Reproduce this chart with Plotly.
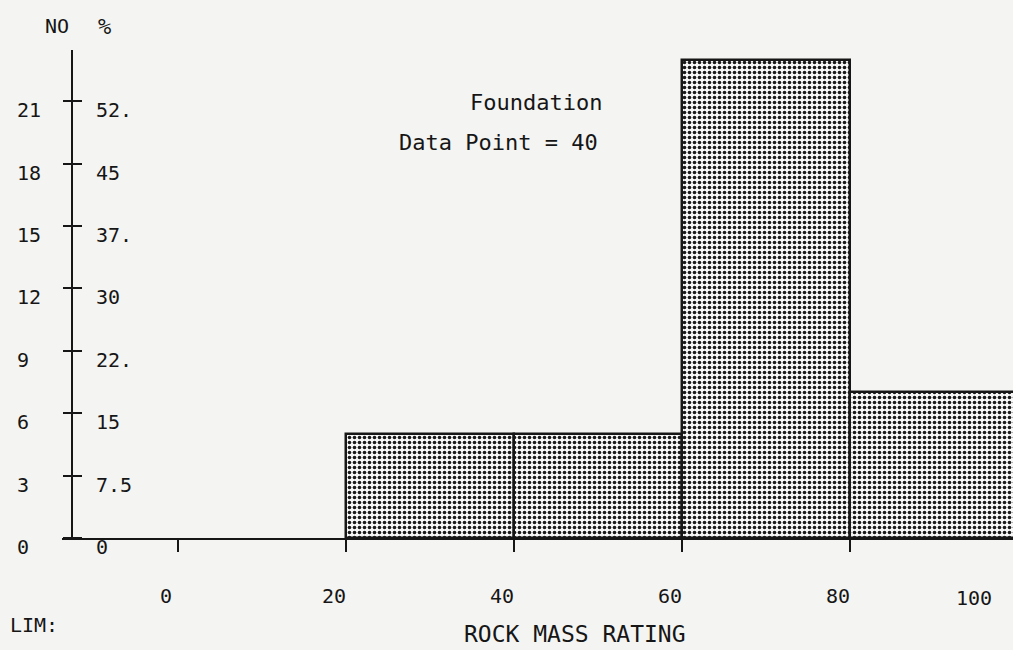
import plotly.graph_objects as go

# ---- data ----
bin_centers = [30, 50, 70, 90]          # rock mass rating bins 20-40, 40-60, 60-80, 80-100
bin_width = [20, 20, 20, 20]
counts = [5, 5, 23, 7]                  # number of data points (total 40)

x_tick_vals = [0, 20, 40, 60, 80]
x_tick_text = ["0", "20", "40", "60", "80"]
x_last_label = "100"                    # drawn squeezed inside the page, as in the original

no_tick_vals = [0, 3, 6, 9, 12, 15, 18, 21]
no_tick_text = ["0\u00a0", "3\u00a0", "6\u00a0", "9\u00a0", "12", "15", "18", "21"]
pct_tick_text = ["0", "7.5", "15", "22.", "30", "37.", "45", "52."]

W, H = 1013, 650
FONT = "DejaVu Sans Mono"
INK = "#161616"
PAPER = "#f4f4f2"

def px(xp):
    return xp / W

def py(yp):
    return 1 - yp / H

fig = go.Figure()
fig.add_trace(go.Bar(
    x=bin_centers, y=counts, width=bin_width,
    marker=dict(
        color="white",
        line=dict(color=INK, width=2.5),
        pattern=dict(shape=".", fgcolor="#1a1a1a", bgcolor="#f8f8f8",
                     size=5, solidity=0.42, fillmode="replace"),
    ),
    hoverinfo="skip", showlegend=False,
))
# invisible trace so the percent axis is drawn
fig.add_trace(go.Scatter(x=[bin_centers[0]], y=[0], yaxis="y2", mode="markers",
                         marker=dict(opacity=0), hoverinfo="skip", showlegend=False))

y_bottom_px, y_top_px = 538, 50
px_per_unit = 20.8
y_max = (y_bottom_px - y_top_px) / px_per_unit

axis_x_px = 72

fig.update_layout(
    width=W, height=H,
    margin=dict(l=0, r=0, t=0, b=0),
    paper_bgcolor=PAPER, plot_bgcolor="rgba(0,0,0,0)",
    font=dict(family=FONT, size=20, color=INK),
    bargap=0,
    xaxis=dict(
        domain=[px(62), 1.0], range=[-13.8, 99.4],
        showline=True, linecolor=INK, linewidth=2,
        showgrid=False, zeroline=False,
        ticks="outside", ticklen=12, tickwidth=2, tickcolor=INK,
        tickvals=x_tick_vals, ticktext=x_tick_text,
        ticklabelstandoff=27, ticklabelshift=-12,
        tickfont=dict(family=FONT, size=20, color=INK),
        automargin=False, fixedrange=True,
    ),
    yaxis=dict(
        domain=[py(y_bottom_px), py(y_top_px)], range=[0, y_max],
        anchor="free", position=px(axis_x_px), side="left",
        showline=True, linecolor=INK, linewidth=2,
        showgrid=False, zeroline=False,
        ticks="outside", ticklen=8, tickwidth=2, tickcolor=INK,
        tickvals=no_tick_vals, ticktext=no_tick_text,
        ticklabelstandoff=18, ticklabelshift=9,
        tickfont=dict(family=FONT, size=20, color=INK),
        automargin=False, fixedrange=True,
    ),
    yaxis2=dict(
        overlaying="y", range=[0, y_max],
        anchor="free", position=px(axis_x_px), side="right",
        showline=False, showgrid=False, zeroline=False,
        ticks="outside", ticklen=9, tickwidth=2, tickcolor=INK,
        tickvals=no_tick_vals, ticktext=pct_tick_text,
        ticklabelstandoff=10, ticklabelshift=9,
        tickfont=dict(family=FONT, size=20, color=INK),
        automargin=False, fixedrange=True,
    ),
)

annots = [
    ("NO", 57, 26, 20),
    ("%", 104, 26, 22),
    ("Foundation", 536, 103, 22),
    ("Data Point = 40", 498, 143, 22),
    ("LIM:", 34, 625, 20),
    ("ROCK MASS RATING", 575, 634, 23),
    (x_last_label, 974, 598, 20),
]
for text, xp, yp, size in annots:
    fig.add_annotation(
        text=text, x=px(xp), y=py(yp), xref="paper", yref="paper",
        xanchor="center", yanchor="middle", showarrow=False,
        font=dict(family=FONT, size=size, color=INK),
    )

fig.write_html(
    "out.html",
    config={"displayModeBar": False},
    post_script="document.body.style.margin='0';document.body.style.overflow='hidden';",
)
